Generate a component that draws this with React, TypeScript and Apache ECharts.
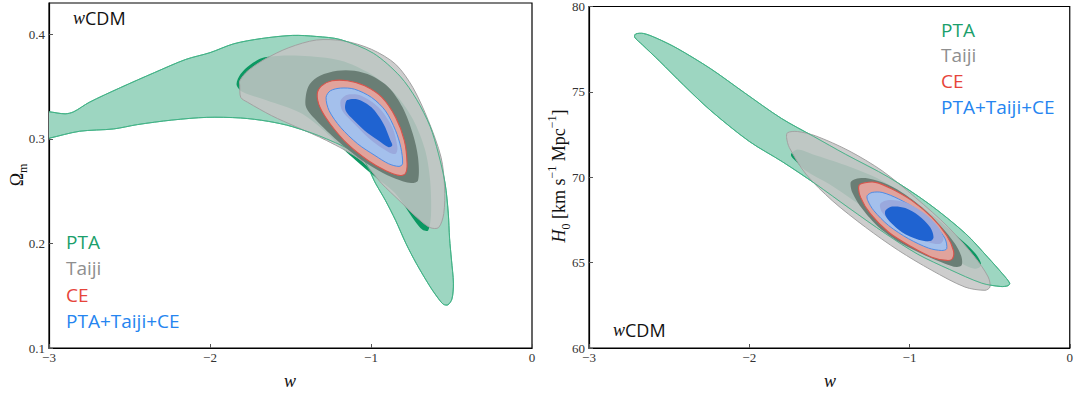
import React, { useEffect, useRef } from "react";
import * as echarts from "echarts";

// ---------- axes ----------
const wRange = [-3, 0];
const omegaRange = [0.1, 0.43];
const h0Range = [60, 80];
const legendLabels = ["PTA", "Taiji", "CE", "PTA+Taiji+CE"];
const legendColors = ["#1b9f6c", "#8f8f8f", "#e6453b", "#2585f0"];

// ---------- left panel contours: [w, Omega_m] ----------
const ptaOuterL = [
  [-2.75, 0.335], [-2.557, 0.349], [-2.344, 0.3635], [-2.151, 0.376], [-2.0, 0.3825],
  [-1.852, 0.391], [-1.681, 0.396], [-1.488, 0.399], [-1.339, 0.398], [-1.19, 0.395],
  [-0.986, 0.382], [-0.82, 0.36], [-0.716, 0.3375], [-0.633, 0.312], [-0.582, 0.2864],
  [-0.54, 0.2577], [-0.52, 0.229], [-0.512, 0.205], [-0.5, 0.184], [-0.488, 0.162],
  [-0.497, 0.147], [-0.522, 0.1413], [-0.55, 0.1418], [-0.58, 0.147], [-0.633, 0.1587],
  [-0.719, 0.181], [-0.783, 0.2], [-0.847, 0.222], [-0.911, 0.2413], [-0.97, 0.257],
  [-1.061, 0.2825], [-1.275, 0.3], [-1.488, 0.3117], [-1.638, 0.3168], [-1.809, 0.32],
  [-2.02, 0.3206], [-2.237, 0.318], [-2.45, 0.3137], [-2.6, 0.3095], [-2.81, 0.3073],
  [-3.0, 0.3006], [-3.08, 0.298], [-3.08, 0.327], [-3.0, 0.326], [-2.9, 0.324], [-2.846, 0.326],
];
const ptaInnerL = [
  [-1.835, 0.352], [-1.81, 0.362], [-1.75, 0.371], [-1.66, 0.378], [-1.44, 0.3795],
  [-1.19, 0.375], [-1.0, 0.362], [-0.85, 0.343], [-0.74, 0.319], [-0.665, 0.29],
  [-0.633, 0.261], [-0.627, 0.228], [-0.645, 0.2125], [-0.68, 0.213], [-0.73, 0.222],
  [-0.85, 0.248], [-1.0, 0.267], [-1.15, 0.287], [-1.3, 0.309], [-1.44, 0.325],
  [-1.65, 0.337], [-1.8, 0.345],
];
const taijiOuterL = [
  [-1.815, 0.3508], [-1.809, 0.3397], [-1.766, 0.335], [-1.617, 0.3222], [-1.467, 0.3117],
  [-1.275, 0.2984], [-1.061, 0.2794], [-0.932, 0.2571], [-0.826, 0.2413], [-0.719, 0.2254],
  [-0.633, 0.2152], [-0.58, 0.2152], [-0.548, 0.2286], [-0.543, 0.254], [-0.565, 0.2825],
  [-0.644, 0.3175], [-0.74, 0.3492], [-0.847, 0.3714], [-0.997, 0.3857], [-1.168, 0.3937],
  [-1.339, 0.3946], [-1.51, 0.3873], [-1.66, 0.3762], [-1.766, 0.365], [-1.815, 0.3556],
];
const taijiInnerL = [
  [-1.403, 0.3429], [-1.381, 0.3524], [-1.317, 0.3603], [-1.21, 0.3651], [-1.103, 0.3651],
  [-0.997, 0.3603], [-0.89, 0.3492], [-0.804, 0.3302], [-0.74, 0.3048], [-0.708, 0.2825],
  [-0.708, 0.2603], [-0.751, 0.2578], [-0.847, 0.2619], [-0.954, 0.2698], [-1.082, 0.2825],
  [-1.21, 0.2984], [-1.339, 0.3175], [-1.403, 0.3302],
];
const ceOuterL = [
  [-1.334, 0.3429], [-1.307, 0.3508], [-1.242, 0.3556], [-1.146, 0.3556], [-1.039, 0.3508],
  [-0.932, 0.3397], [-0.847, 0.3206], [-0.793, 0.2984], [-0.776, 0.2762], [-0.787, 0.2667],
  [-0.826, 0.2651], [-0.911, 0.2698], [-1.018, 0.2794], [-1.146, 0.2952], [-1.253, 0.3143],
  [-1.317, 0.3302],
];
const allOuterL = [
  [-1.279, 0.3397], [-1.253, 0.346], [-1.189, 0.3486], [-1.103, 0.3476], [-0.997, 0.3397],
  [-0.911, 0.327], [-0.847, 0.3079], [-0.815, 0.292], [-0.804, 0.2762], [-0.826, 0.2737],
  [-0.89, 0.2762], [-0.975, 0.2841], [-1.082, 0.2952], [-1.189, 0.3111], [-1.26, 0.327],
];
const ceInnerL = [
  [-1.189, 0.3365], [-1.146, 0.3422], [-1.061, 0.3413], [-0.954, 0.3302], [-0.868, 0.3111],
  [-0.836, 0.292], [-0.847, 0.2857], [-0.89, 0.2873], [-0.997, 0.2984], [-1.103, 0.3143],
  [-1.178, 0.327],
];
const allInnerL = [
  [-1.161, 0.3317], [-1.148, 0.3371], [-1.082, 0.3378], [-0.997, 0.3302], [-0.922, 0.3143],
  [-0.879, 0.2984], [-0.868, 0.2937], [-0.89, 0.2921], [-0.954, 0.2984], [-1.039, 0.3079],
  [-1.125, 0.3206], [-1.157, 0.327],
];

// ---------- right panel contours: [w, H0] ----------
const ptaOuterR = [
  [-2.709, 78.39], [-2.66, 78.42], [-2.58, 78.15], [-2.45, 77.55], [-2.24, 76.35],
  [-2.03, 74.95], [-1.8, 73.45], [-1.6, 72.4], [-1.4, 71.35], [-1.13, 70.0],
  [-0.88, 68.45], [-0.65, 66.7], [-0.51, 65.3], [-0.42, 64.35], [-0.375, 63.8],
  [-0.385, 63.65], [-0.43, 63.6], [-0.55, 63.8], [-0.75, 64.6], [-0.95, 65.5],
  [-1.15, 66.7], [-1.378, 68.2], [-1.585, 69.6], [-1.792, 70.9], [-2.0, 72.1],
  [-2.24, 73.9], [-2.41, 75.4], [-2.56, 76.8], [-2.666, 77.75], [-2.715, 78.2],
];
const ptaInnerR = [
  [-1.74, 71.3], [-1.7, 71.62], [-1.606, 71.35], [-1.398, 70.7], [-1.192, 69.9],
  [-0.985, 68.7], [-0.819, 67.5], [-0.654, 66.15], [-0.59, 65.55], [-0.555, 65.0],
  [-0.56, 64.75], [-0.6, 64.65], [-0.675, 64.95], [-0.881, 65.95], [-1.088, 67.1],
  [-1.295, 68.3], [-1.502, 69.6], [-1.65, 70.4], [-1.7, 70.85],
];
const taijiOuterR = [
  [-1.767, 72.32], [-1.761, 72.61], [-1.7, 72.68], [-1.585, 72.42], [-1.378, 71.55],
  [-1.171, 70.38], [-0.964, 68.82], [-0.757, 67.07], [-0.592, 65.32], [-0.509, 64.16],
  [-0.498, 63.57], [-0.529, 63.38], [-0.654, 63.57], [-0.861, 64.55], [-1.068, 65.71],
  [-1.274, 67.07], [-1.482, 68.63], [-1.647, 70.19], [-1.75, 71.74],
];
const taijiInnerR = [
  [-1.367, 69.7], [-1.336, 69.9], [-1.274, 69.95], [-1.171, 69.7], [-1.047, 69.11],
  [-0.923, 68.24], [-0.799, 67.07], [-0.716, 66.1], [-0.675, 65.32], [-0.675, 64.84],
  [-0.706, 64.74], [-0.778, 64.94], [-0.902, 65.42], [-1.047, 66.1], [-1.192, 67.07],
  [-1.295, 68.15], [-1.357, 69.11],
];
const ceOuterR = [
  [-1.316, 69.5], [-1.285, 69.66], [-1.212, 69.7], [-1.109, 69.31], [-0.985, 68.63],
  [-0.861, 67.66], [-0.768, 66.59], [-0.726, 65.71], [-0.732, 65.23], [-0.768, 65.13],
  [-0.861, 65.32], [-0.985, 65.91], [-1.13, 66.78], [-1.243, 67.85], [-1.305, 68.82],
];
const allOuterR = [
  [-1.264, 68.92], [-1.233, 69.11], [-1.171, 69.11], [-1.068, 68.73], [-0.944, 68.05],
  [-0.84, 67.17], [-0.778, 66.4], [-0.768, 65.81], [-0.799, 65.71], [-0.881, 65.85],
  [-1.006, 66.4], [-1.13, 67.17], [-1.223, 68.05], [-1.26, 68.63],
];
const ceInnerR = [
  [-1.183, 68.44], [-1.13, 68.67], [-1.026, 68.53], [-0.902, 67.85], [-0.819, 67.07],
  [-0.788, 66.4], [-0.809, 66.1], [-0.881, 66.2], [-1.006, 66.69], [-1.109, 67.36],
  [-1.171, 67.95],
];
const allInnerR = [
  [-1.15, 68.05], [-1.109, 68.28], [-1.026, 68.2], [-0.944, 67.76], [-0.871, 67.07],
  [-0.85, 66.49], [-0.871, 66.26], [-0.944, 66.34], [-1.047, 66.78], [-1.119, 67.36],
  [-1.15, 67.76],
];

// ---------- styles ----------
const S = {
  ptaOuter: { fill: "#9dd6c1", stroke: "#3fb184", lineWidth: 0.9 },
  ptaInner: { fill: "#0b9862", stroke: "none" },
  taijiOuter: { fill: "rgba(197,197,197,0.86)", stroke: "#a2a2a2", lineWidth: 1 },
  ptaLine: { fill: "none", stroke: "#3fb184", lineWidth: 0.9 },
  taijiInner: { fill: "#6a7e75", stroke: "none" },
  ceOuter: { fill: "#e1a39c", stroke: "#d9544b", lineWidth: 1.1 },
  allOuter: { fill: "#a4c0ec", stroke: "#4c8de8", lineWidth: 1 },
  ceInner: { fill: "#9aa9dd", stroke: "none" },
  allInner: { fill: "#1f63d1", stroke: "none" },
};

function contour(name: string, pts: number[][], idx: number, style: any) {
  return {
    type: "custom",
    name,
    xAxisIndex: idx,
    yAxisIndex: idx,
    clip: true,
    silent: true,
    data: pts,
    encode: { x: 0, y: 1 },
    renderItem: (params: any, api: any) => {
      if (params.dataIndex !== 0) return null;
      const points = pts.map((p) => api.coord(p));
      return { type: "polygon", shape: { points, smooth: 0.3 }, style };
    },
  };
}

const minus = (v: number) => (v < 0 ? "\u2212" + Math.abs(v) : String(v));
const serif = "'Liberation Serif', 'DejaVu Serif', serif";
const sans = "'Open Sans', 'DejaVu Sans', sans-serif";

const lineCfg = { show: true, onZero: false, lineStyle: { color: "#000", width: 1.2 } };
const tickCfg = { show: true, inside: true, length: 4, lineStyle: { color: "#555" } };

function xAxisCfg(idx: number) {
  return {
    type: "value", gridIndex: idx, min: wRange[0], max: wRange[1], interval: 1,
    axisLine: lineCfg,
    axisTick: tickCfg,
    splitLine: { show: false },
    axisLabel: { formatter: minus, margin: 3, fontFamily: serif, fontSize: 13, color: "#333" },
  };
}

export default function App() {
  const ref = useRef<HTMLDivElement>(null);
  useEffect(() => {
    document.body.style.margin = "0";
    const chart = echarts.init(ref.current!, null, { renderer: "svg" });
    const legendText = (x: number, ys: number[]) =>
      legendLabels.map((t, i) => ({
        type: "text", x, y: ys[i],
        style: { text: t, fill: legendColors[i], font: `19px ${sans}`, verticalAlign: "middle", align: "left" },
      }));
    const modelText = (x: number, y: number) => ({
      type: "text", x, y,
      style: {
        text: "{i|w}{s|CDM}", verticalAlign: "middle", align: "left",
        rich: {
          i: { fontFamily: serif, fontStyle: "italic", fontSize: 18, fill: "#111" },
          s: { fontFamily: sans, fontSize: 18, fill: "#111" },
        },
      },
    });
    const option: any = {
      animation: false,
      grid: [
        { left: 49, top: 3, width: 483, height: 345, show: true, borderColor: "#000", borderWidth: 1.2 },
        { left: 589, top: 4, width: 483, height: 344, show: true, borderColor: "#000", borderWidth: 1.2 },
      ],
      xAxis: [xAxisCfg(0), xAxisCfg(1)],
      yAxis: [
        {
          type: "value", gridIndex: 0, min: omegaRange[0], max: omegaRange[1], interval: 0.1,
          axisLine: lineCfg,
          axisTick: tickCfg,
          splitLine: { show: false },
          axisLabel: {
            showMaxLabel: false, margin: 4, fontFamily: serif, fontSize: 13, color: "#333",
            formatter: (v: number) => (Math.round(v * 10) / 10).toFixed(1),
          },
        },
        {
          type: "value", gridIndex: 1, min: h0Range[0], max: h0Range[1], interval: 5,
          axisLine: lineCfg,
          axisTick: tickCfg,
          splitLine: { show: false },
          axisLabel: { margin: 4, fontFamily: serif, fontSize: 13, color: "#333" },
        },
      ],
      series: [
        contour("PTA 2σ", ptaOuterL, 0, S.ptaOuter),
        contour("PTA 1σ", ptaInnerL, 0, S.ptaInner),
        contour("Taiji 2σ", taijiOuterL, 0, S.taijiOuter),
        contour("PTA edge", ptaOuterL, 0, S.ptaLine),
        contour("Taiji 1σ", taijiInnerL, 0, S.taijiInner),
        contour("CE 2σ", ceOuterL, 0, S.ceOuter),
        contour("All 2σ", allOuterL, 0, S.allOuter),
        contour("CE 1σ", ceInnerL, 0, S.ceInner),
        contour("All 1σ", allInnerL, 0, S.allInner),
        contour("PTA 2σ R", ptaOuterR, 1, S.ptaOuter),
        contour("PTA 1σ R", ptaInnerR, 1, S.ptaInner),
        contour("Taiji 2σ R", taijiOuterR, 1, S.taijiOuter),
        contour("PTA edge R", ptaOuterR, 1, S.ptaLine),
        contour("Taiji 1σ R", taijiInnerR, 1, S.taijiInner),
        contour("CE 2σ R", ceOuterR, 1, S.ceOuter),
        contour("All 2σ R", allOuterR, 1, S.allOuter),
        contour("CE 1σ R", ceInnerR, 1, S.ceInner),
        contour("All 1σ R", allInnerR, 1, S.allInner),
      ],
      graphic: [
        ...legendText(66, [242, 268, 295, 321]),
        ...legendText(941, [30, 55, 81, 107]),
        modelText(73, 18),
        modelText(613, 330),
        { type: "text", x: 290, y: 381, style: { text: "w", font: `italic 18px ${serif}`, fill: "#111", align: "center", verticalAlign: "middle" } },
        { type: "text", x: 830, y: 381, style: { text: "w", font: `italic 18px ${serif}`, fill: "#111", align: "center", verticalAlign: "middle" } },
        {
          type: "text", x: 17, y: 175, rotation: Math.PI / 2,
          style: {
            text: "{b|Ω}{sub|m}", align: "center", verticalAlign: "middle",
            rich: {
              b: { fontFamily: serif, fontSize: 18, fill: "#111", lineHeight: 24, verticalAlign: "middle" },
              sub: { fontFamily: serif, fontSize: 12, fill: "#111", lineHeight: 24, verticalAlign: "bottom" },
            },
          },
        },
        {
          type: "text", x: 559, y: 176, rotation: Math.PI / 2,
          style: {
            text: "{i|H}{sub|0}{b| [km s}{sup|−1}{b| Mpc}{sup|−1}{b|]}", align: "center", verticalAlign: "middle",
            rich: {
              i: { fontFamily: serif, fontStyle: "italic", fontSize: 18, fill: "#111", lineHeight: 26, verticalAlign: "middle" },
              b: { fontFamily: serif, fontSize: 18, fill: "#111", lineHeight: 26, verticalAlign: "middle" },
              sub: { fontFamily: serif, fontSize: 12, fill: "#111", lineHeight: 26, verticalAlign: "bottom" },
              sup: { fontFamily: serif, fontSize: 12, fill: "#111", lineHeight: 26, verticalAlign: "top" },
            },
          },
        },
      ],
    };
    chart.setOption(option);
    return () => chart.dispose();
  }, []);
  return <div ref={ref} style={{ position: "absolute", left: 0, top: 0, width: 1076, height: 395 }} />;
}
